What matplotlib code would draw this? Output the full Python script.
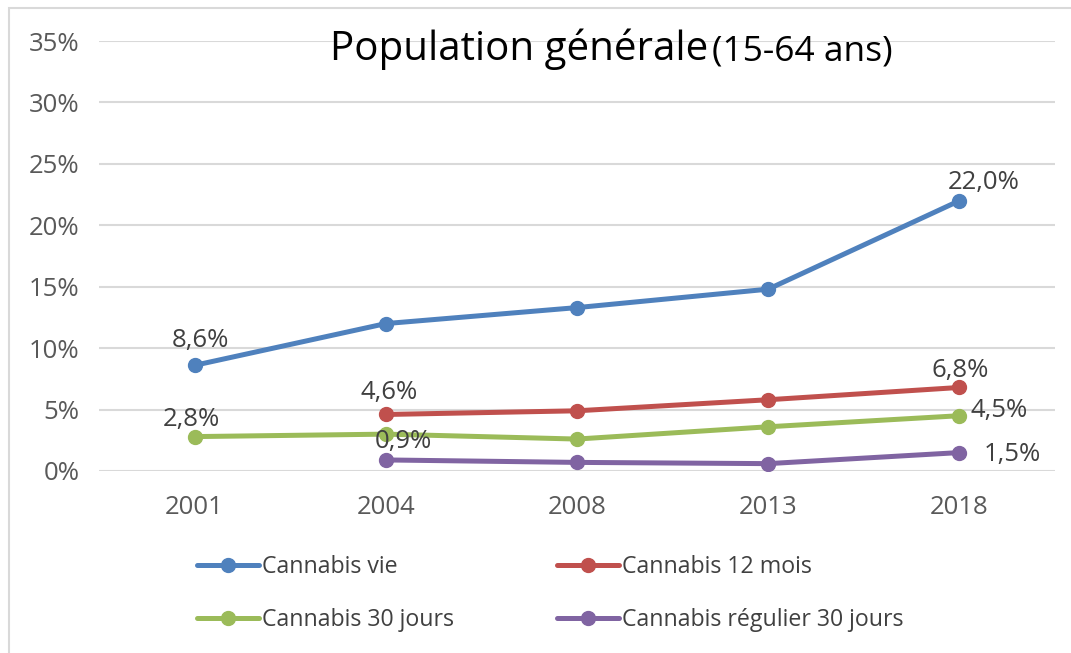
import numpy as np
import matplotlib.pyplot as plt
from matplotlib.patches import Rectangle

plt.rcParams['font.family'] = ['Open Sans', 'DejaVu Sans']

annees = ['2001', '2004', '2008', '2013', '2018']
vie = [8.6, 12.0, 13.3, 14.8, 22.0]
douze_mois = [np.nan, 4.6, 4.9, 5.8, 6.8]
trente_jours = [2.8, 3.0, 2.6, 3.6, 4.5]
regulier = [np.nan, 0.9, 0.7, 0.6, 1.5]

series = [
    ('Cannabis vie', vie, '#4F81BD'),
    ('Cannabis 12 mois', douze_mois, '#C0504D'),
    ('Cannabis 30 jours', trente_jours, '#9BBB59'),
    ('Cannabis régulier 30 jours', regulier, '#8064A2'),
]

# etiquettes : (serie, indice annee, decalage en px)
etiquettes = [
    (0, 0, (6, 25)), (0, 4, (24, 18)),
    (1, 1, (3, 22)), (1, 4, (1, 17)),
    (2, 0, (-3, 17)), (2, 4, (40, 5)),
    (3, 1, (18, 18)), (3, 4, (53, -2)),
]

W, H = 1071, 653
fig = plt.figure(figsize=(W / 100, H / 100), dpi=100)
ax = fig.add_axes([99 / W, 1 - 471 / H, (1055 - 99) / W, (471 - 41) / H])

x = np.arange(len(annees))
lignes = []
for nom, val, coul in series:
    l, = ax.plot(x, val, '-o', color=coul, lw=3.6, ms=10, label=nom, solid_capstyle='round')
    lignes.append(l)

for s, i, (dx, dy) in etiquettes:
    v = series[s][1][i]
    ax.annotate('{:.1f}%'.format(v).replace('.', ','), (x[i], v),
                xytext=(dx * 0.72, dy * 0.72), textcoords='offset points',
                ha='center', va='center', fontsize=18.5, color='#404040')

ax.set_xlim(-0.5, len(annees) - 0.5)
ax.set_ylim(0, 35)
ax.set_yticks(range(0, 36, 5))
ax.set_yticklabels(['{}%'.format(t) for t in range(0, 36, 5)])
ax.set_xticks(x)
ax.set_xticklabels(annees)
ax.tick_params(length=0, labelsize=18.5, labelcolor='#595959')
ax.tick_params(axis='x', pad=17)
ax.tick_params(axis='y', pad=14)
ax.grid(axis='y', color='#D9D9D9', lw=1.5)
ax.set_axisbelow(True)
for sp in ax.spines.values():
    sp.set_visible(False)

fig.text(330 / W, 1 - 60 / H, 'Population générale', fontsize=29, color='black', va='baseline')
fig.text(712 / W, 1 - 60 / H, '(15-64 ans)', fontsize=25.5, color='black', va='baseline')

ordre = [0, 2, 1, 3]
ax.legend([lignes[k] for k in ordre], [series[k][0] for k in ordre],
          loc='upper left', bbox_to_anchor=(197 / W, 1 - 555 / H), bbox_transform=fig.transFigure,
          ncol=2, frameon=False, fontsize=16.7, handlelength=2.67, handletextpad=0.13,
          columnspacing=4.45, labelspacing=1.26, borderpad=0, borderaxespad=0,
          labelcolor='#404040')

fig.patches.append(Rectangle((8.5 / W, -0.1), 1.2, 1 - 8.5 / H + 0.1, transform=fig.transFigure,
                             fill=False, ec='#D9D9D9', lw=1.5))

fig.savefig('out.png', dpi=100)
